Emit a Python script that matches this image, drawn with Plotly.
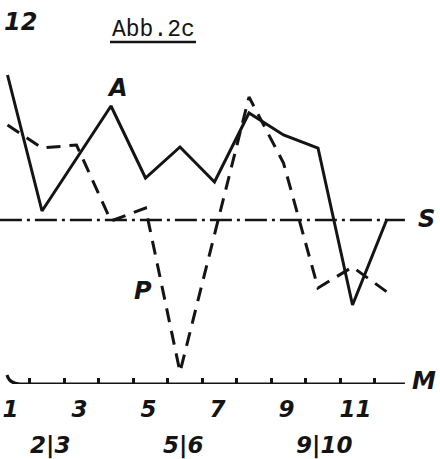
import plotly.graph_objects as go

# Series A (solid) and P (dashed), index values by month
months_a = [1, 2, 4, 5, 6, 7, 8, 9, 10, 11, 12]
values_a = [30.9, 17.3, 27.8, 20.6, 23.7, 20.2, 27.1, 24.9, 23.6, 7.9, 16.5]

months_p = [1, 2, 3, 4, 5, 6, 8, 9, 10, 11, 12]
values_p = [25.9, 23.6, 23.9, 16.3, 17.6, 1.2, 28.7, 22.1, 9.6, 11.7, 9.2]

# Reference level S
level_s = 16.4
s_span = [0.78, 12.52]

# Month axis labels
tick_months = [1, 3, 5, 7, 9, 11]
tick_labels = ["1", "3", "5", "7", "9", "11"]
tick_marks = [m + 0.65 for m in range(1, 12)]
pair_labels = ["2|3", "5|6", "9|10"]
pair_months = [2.23, 6.09, 10.17]

INK = "#141414"
SANS = "DejaVu Sans"
W, H = 440, 459

fig = go.Figure()

fig.add_trace(go.Scatter(
    x=s_span, y=[level_s, level_s], mode="lines",
    line=dict(color=INK, width=2.5, dash="22px,5px,3px,5px"),
    hoverinfo="skip"))

fig.add_trace(go.Scatter(
    x=months_p, y=values_p, mode="lines",
    line=dict(color=INK, width=3, dash="14px,9px"),
    name="P"))

fig.add_trace(go.Scatter(
    x=months_a, y=values_a, mode="lines",
    line=dict(color=INK, width=3),
    name="A"))

# Month axis line with its rounded left end
fig.add_shape(type="path", xref="x", yref="y",
              path="M 0.985,0.9 Q 1.05,0.05 1.36,0 L 12.52,0",
              line=dict(color=INK, width=3))

# Underline of the figure caption
fig.add_shape(type="line", xref="paper", yref="paper",
              x0=110 / W, x1=196 / W, y0=1 - 42 / H, y1=1 - 42 / H,
              line=dict(color=INK, width=2.5))


def label(text, px, py, size=24, family=SANS, style="italic", weight="bold"):
    fig.add_annotation(
        text=text, xref="paper", yref="paper", x=px / W, y=1 - py / H,
        showarrow=False, xanchor="center", yanchor="middle",
        font=dict(family=family, size=size, color=INK, style=style,
                  weight=weight))


label("12", 20, 22, size=24)
label("Abb.2c", 153, 30, size=23, family="Liberation Mono", style="normal",
      weight="normal")
label("A", 117, 88)
label("P", 143, 291)
label("S", 426, 219)
label("M", 424, 381)

for txt, m in zip(pair_labels, pair_months):
    fig.add_annotation(
        text=txt, xref="x", yref="paper", x=m, y=1 - 445 / H,
        showarrow=False, xanchor="center", yanchor="middle",
        font=dict(family=SANS, size=23, color=INK, style="italic",
                  weight="bold"))

fig.update_layout(
    width=W, height=H,
    margin=dict(l=0, r=0, t=0, b=0),
    paper_bgcolor="white", plot_bgcolor="white",
    showlegend=False,
    xaxis=dict(
        range=[0.7826, 13.536], showgrid=False, zeroline=False, showline=False,
        tickmode="array", tickvals=tick_months, ticktext=tick_labels, ticks="",
        tickfont=dict(family=SANS, size=23, color=INK, style="italic",
                      weight="bold"),
        ticklabelshift=3, ticklabelstandoff=9,
        minor=dict(tickmode="array", tickvals=tick_marks, ticks="inside",
                   ticklen=6, tickwidth=2.5, tickcolor=INK, showgrid=False),
    ),
    yaxis=dict(domain=[75 / H, 1], range=[0, 38.4], visible=False),
)

fig.write_html("out.html")
